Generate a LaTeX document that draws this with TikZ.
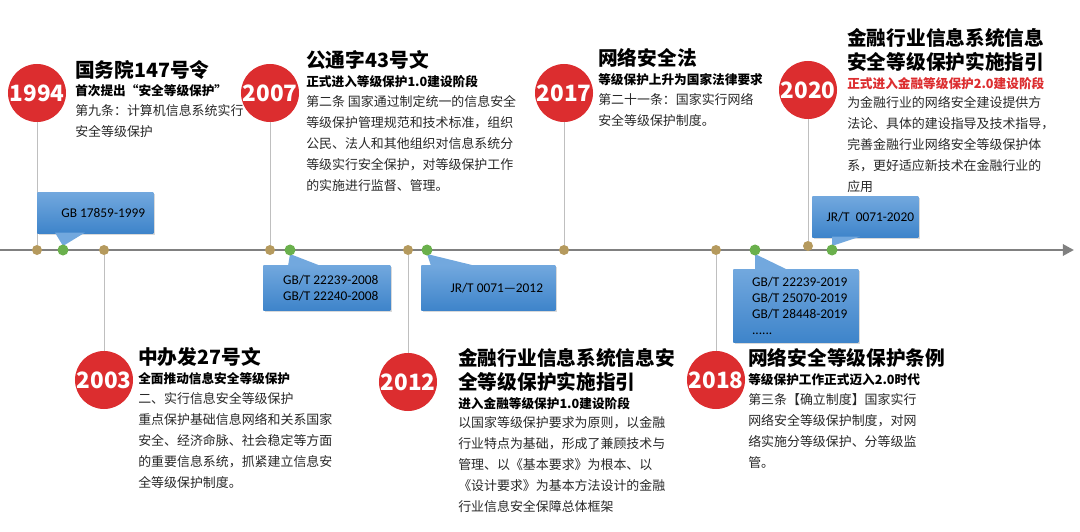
\documentclass[tikz,border=0pt]{standalone}
\usepackage{fontspec}
\setmainfont{Noto Sans CJK SC}
\newfontfamily\stdfont{Carlito}
\usetikzlibrary{arrows.meta, positioning, calc, shadows}
\definecolor{yearred}{RGB}{220,45,47}
\definecolor{dottan}{RGB}{181,154,94}
\definecolor{dotgreen}{RGB}{106,176,76}
\definecolor{axisgray}{RGB}{128,128,128}
\definecolor{calltop}{RGB}{114,168,222}
\definecolor{callbot}{RGB}{62,132,202}
\definecolor{bodygray}{RGB}{40,40,40}
\tikzset{
  yearball/.style={circle, fill=yearred, text=white, minimum size=1.45cm, inner sep=0pt, font=\fontsize{16}{16}\selectfont\bfseries},
  tandot/.style={circle, fill=dottan, minimum size=0.25cm, inner sep=0pt},
  greendot/.style={circle, fill=dotgreen, minimum size=0.275cm, inner sep=0pt},
  stem/.style={draw=black!25, line width=0.6pt},
  headline/.style={anchor=west, inner sep=0pt, align=left, font=\fontsize{14}{17.5}\selectfont\bfseries},
  subline/.style={anchor=west, inner sep=0pt, font=\fontsize{9}{10}\selectfont\bfseries},
  bodytext/.style={anchor=north west, inner sep=0pt, align=left, text=bodygray, font=\fontsize{9.2}{14.9}\selectfont},
  callbox/.style={anchor=north west, inner sep=0pt, top color=calltop, bottom color=callbot, drop shadow={opacity=0.3, shadow xshift=1pt, shadow yshift=-1pt}, font=\stdfont\fontsize{9.5}{11.5}\selectfont, align=left},
  calltip/.style={fill=calltop}
}
\begin{document}
\begin{tikzpicture}[x=0.025cm, y=-0.025cm]
    \useasboundingbox (0,0) rectangle (1080,532);

    % Axis
    \draw[axisgray, line width=2pt, -{Triangle[length=8pt,width=8pt]}] (0,250) -- (1074,250);

    % Axis dots
    \node[tandot] (t1994) at (37,250) {};
    \node[tandot] (t2003) at (104,250) {};
    \node[tandot] (t2007) at (270,250) {};
    \node[tandot] (t2012) at (408,250) {};
    \node[tandot] (t2017) at (564,250) {};
    \node[tandot] (t2018) at (716,250) {};
    \node[tandot] (t2020) at (808,246) {};

    % Year balls and stems
    \node[yearball] (y1994) at (37,93) {1994};
    \node[yearball] (y2007) at (270,93) {2007};
    \node[yearball] (y2017) at (564,93) {2017};
    \node[yearball] (y2020) at (808,90) {2020};
    \node[yearball] (y2003) at (104,380) {2003};
    \node[yearball] (y2012) at (408,382) {2012};
    \node[yearball] (y2018) at (716,380) {2018};
    \foreach \yr in {1994,2003,2007,2012,2017,2018,2020}
        \draw[stem] (y\yr) -- (t\yr);

    % Callouts
    \node[callbox, minimum width=2.9cm, minimum height=1.025cm] (c1999) at (37,192) {\hspace*{0.4cm}GB 17859-1999};
    \fill[calltip] ($(c1999.south west)+(18,-1)$) -- (63,246) -- ($(c1999.south west)+(48,-1)$) -- cycle;

    \node[callbox, minimum width=3.175cm, minimum height=1.125cm] (c2008) at (263,265) {\hspace*{0.2cm}GB/T 22239-2008\\\hspace*{0.2cm}GB/T 22240-2008};
    \fill[calltip] ($(c2008.north west)+(25,1)$) -- (290,254) -- ($(c2008.north west)+(58,1)$) -- cycle;

    \node[callbox, minimum width=3.35cm, minimum height=1.125cm] (c2012) at (421,265) {\hspace*{0.425cm}JR/T 0071—2012};
    \fill[calltip] ($(c2012.north west)+(10,1)$) -- (427,254) -- ($(c2012.north west)+(55,1)$) -- cycle;

    \node[callbox, minimum width=3.125cm, minimum height=1.825cm] (c2019) at (733,269) {\hspace*{0.2cm}GB/T 22239-2019\\\hspace*{0.2cm}GB/T 25070-2019\\\hspace*{0.2cm}GB/T 28448-2019\\\hspace*{0.2cm}......};
    \fill[calltip] ($(c2019.north west)+(22,1)$) -- (755,254) -- ($(c2019.north west)+(55,1)$) -- cycle;

    \node[callbox, minimum width=2.65cm, minimum height=1.025cm] (c2020) at (812,196) {\hspace*{0.25cm}JR/T\ \ 0071-2020};
    \fill[calltip] ($(c2020.south west)+(20,-1)$) -- (832,246) -- ($(c2020.south west)+(48,-1)$) -- cycle;

    % Green dots on top
    \foreach \gx/\gn in {63/g1999, 290/g2008, 427/g2012, 755/g2019, 832/g2020}
        \node[greendot] (\gn) at (\gx,250) {};

    % 1994
    \node[headline] (h1994) at (75,70) {国务院147号令};
    \node[subline] (s1994) at (75,91) {首次提出“安全等级保护”};
    \node[bodytext] (b1994) at (75,104) {第九条：计算机信息系统实行\\安全等级保护};

    % 2007
    \node[headline] (h2007) at (306,60) {公通字43号文};
    \node[subline] (s2007) at (306,82) {正式进入等级保护1.0建设阶段};
    \node[bodytext] (b2007) at (306,95) {第二条\ 国家通过制定统一的信息安全\\等级保护管理规范和技术标准，组织\\公民、法人和其他组织对信息系统分\\等级实行安全保护，对等级保护工作\\的实施进行监督、管理。};

    % 2017
    \node[headline] (h2017) at (598,58) {网络安全法};
    \node[subline] (s2017) at (598,80) {等级保护上升为国家法律要求};
    \node[bodytext] (b2017) at (598,93) {第二十一条：国家实行网络\\安全等级保护制度。};

    % 2020
    \node[headline] (h2020) at (847,50) {金融行业信息系统信息\\安全等级保护实施指引};
    \node[subline, text=yearred] (s2020) at (847,84) {正式进入金融等级保护2.0建设阶段};
    \node[bodytext] (b2020) at (847,96) {为金融行业的网络安全建设提供方\\法论、具体的建设指导及技术指导，\\完善金融行业网络安全等级保护体\\系，更好适应新技术在金融行业的\\应用};

    % 2003
    \node[headline] (h2003) at (138,357) {中办发27号文};
    \node[subline] (s2003) at (138,379) {全面推动信息安全等级保护};
    \node[bodytext] (b2003) at (138,392) {二、实行信息安全等级保护\\重点保护基础信息网络和关系国家\\安全、经济命脉、社会稳定等方面\\的重要信息系统，抓紧建立信息安\\全等级保护制度。};

    % 2012
    \node[headline] (h2012) at (458,370) {金融行业信息系统信息安\\全等级保护实施指引};
    \node[subline] (s2012) at (458,404) {进入金融等级保护1.0建设阶段};
    \node[bodytext] (b2012) at (458,416) {以国家等级保护要求为原则，以金融\\行业特点为基础，形成了兼顾技术与\\管理、以《基本要求》为根本、以\\《设计要求》为基本方法设计的金融\\行业信息安全保障总体框架};

    % 2018
    \node[headline] (h2018) at (748,358) {网络安全等级保护条例};
    \node[subline] (s2018) at (748,380) {等级保护工作正式迈入2.0时代};
    \node[bodytext] (b2018) at (748,393) {第三条【确立制度】国家实行\\网络安全等级保护制度，对网\\络实施分等级保护、分等级监\\管。};
\end{tikzpicture}
\end{document}
